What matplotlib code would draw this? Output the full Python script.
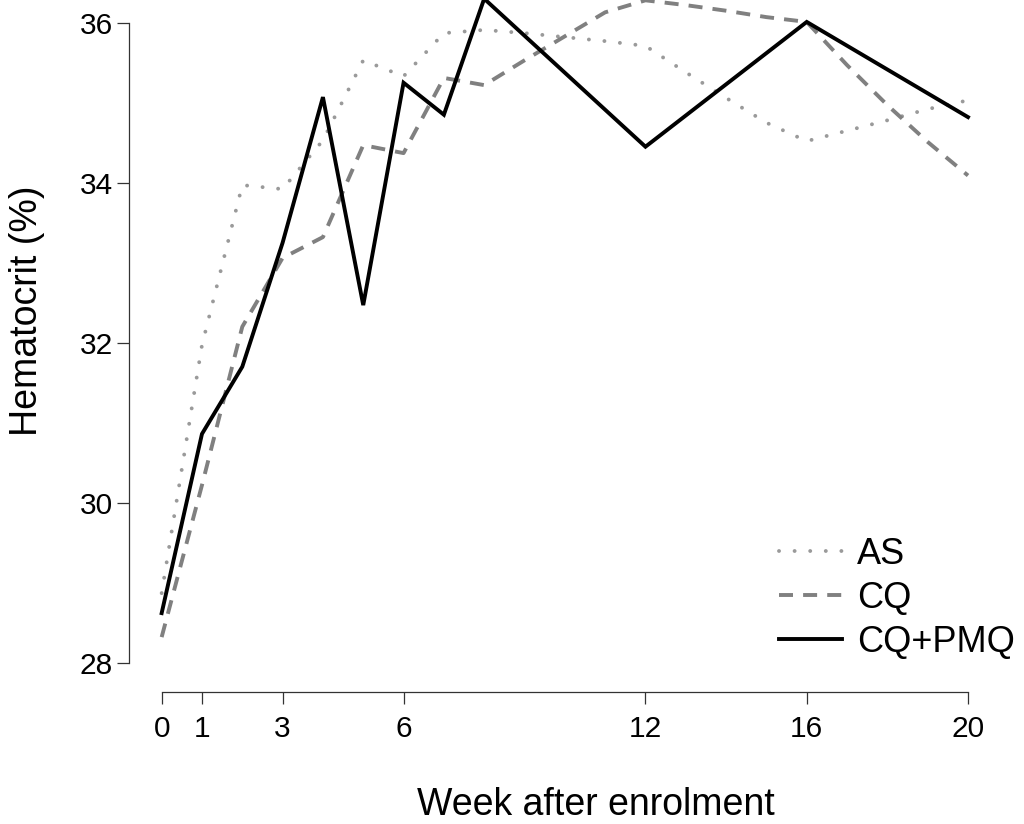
import matplotlib
matplotlib.use('Agg')
import matplotlib.pyplot as plt

plt.rcParams['font.family'] = ['Liberation Sans', 'DejaVu Sans']

weeks_all = [0, 1, 2, 3, 4, 5, 6, 7, 8, 9, 10, 11, 12, 13, 14, 15, 16, 17, 18, 19, 20]
weeks_pmq = [0, 1, 2, 3, 4, 5, 6, 7, 8, 12, 16, 20]

hct_as = [28.87, 31.97, 33.97, 33.92, 34.53, 35.53, 35.33, 35.87, 35.91, 35.87, 35.82,
          35.77, 35.71, 35.38, 35.06, 34.75, 34.52, 34.65, 34.78, 34.92, 35.03]
hct_cq = [28.32, 30.22, 32.20, 33.06, 33.32, 34.47, 34.37, 35.31, 35.22, 35.53, 35.83,
          36.13, 36.28, 36.22, 36.15, 36.07, 36.01, 35.47, 34.97, 34.51, 34.09]
hct_pmq = [28.62, 30.86, 31.70, 33.25, 35.07, 32.47, 35.25, 34.85, 36.30, 34.45, 36.01, 34.82]

xticks = [0, 1, 3, 6, 12, 16, 20]
yticks = [28, 30, 32, 34, 36]

W, H = 1024, 824
fig = plt.figure(figsize=(W / 100, H / 100), dpi=100)
ax = fig.add_axes([129 / W, (H - 692) / H, (968 - 129) / W, 692 / H])

ax.plot(weeks_all, hct_as, color='#9a9a9a', lw=2.8, linestyle=(0, (0.01, 4.0)),
        dash_capstyle='round', label='AS', clip_on=False)
ax.plot(weeks_all, hct_cq, color='#808080', lw=2.8, linestyle=(0, (3.6, 2.6)),
        label='CQ', clip_on=False)
ax.plot(weeks_pmq, hct_pmq, color='black', lw=2.8, label='CQ+PMQ', clip_on=False,
        solid_joinstyle='miter')

ax.set_xlim(-0.81, 20)
ax.set_ylim(27.634, 36.284)

for s in ['top', 'right']:
    ax.spines[s].set_visible(False)
ax.spines['left'].set_bounds(28, 36)
ax.spines['bottom'].set_bounds(0, 20)
for s in ['left', 'bottom']:
    ax.spines[s].set_linewidth(0.9)
    ax.spines[s].set_color('#333333')

ax.set_xticks(xticks)
ax.set_yticks(yticks)
ax.tick_params(axis='both', labelsize=21.5, length=8.5, width=0.9, color='#333333')
ax.tick_params(axis='x', pad=8)
ax.tick_params(axis='y', pad=3)

fig.text(596 / W, 1 - 805 / H, 'Week after enrolment', fontsize=27, ha='center', va='center')
fig.text(27 / W, 1 - 311 / H, 'Hematocrit (%)', fontsize=27, ha='center', va='center',
         rotation=90)

ax.legend(loc='upper left', bbox_to_anchor=(779 / W, 1 - 537 / H),
          bbox_transform=fig.transFigure, frameon=False, fontsize=26,
          handlelength=1.75, handletextpad=0.42, labelspacing=0.25,
          borderpad=0, borderaxespad=0)

fig.savefig('out.png', dpi=100)
